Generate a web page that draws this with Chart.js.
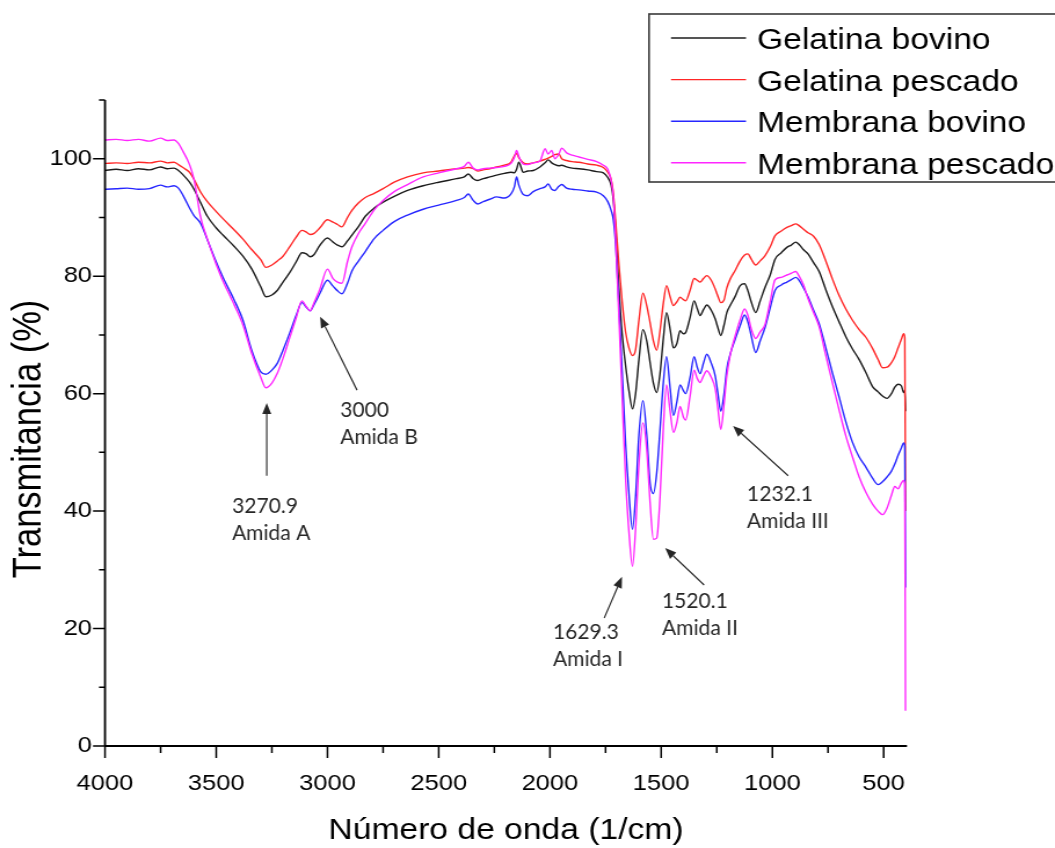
<!DOCTYPE html>
<html>
<head>
<meta charset="utf-8">
<script src="https://cdn.jsdelivr.net/npm/chart.js@4.4.1/dist/chart.umd.min.js"></script>
<style>
  html, body { margin: 0; padding: 0; background: #fff; overflow: hidden; }
  #stage { width: 910px; height: 848px; transform-origin: 0 0; }
  canvas { display: block; }
</style>
</head>
<body>
<div id="stage"><canvas id="c" width="910" height="848"></canvas></div>
<script>
// FTIR spectra: wavenumber (1/cm) against transmittance (%)
const wavenumber = [
  4000, 3950, 3900, 3850, 3800, 3750, 3720, 3690, 3670, 3650,
  3620, 3600, 3570, 3540, 3500, 3470, 3420, 3380, 3340, 3300,
  3277, 3250, 3225, 3200, 3170, 3140, 3115, 3095, 3078, 3060,
  3035, 3000, 2975, 2955, 2935, 2910, 2890, 2860, 2830, 2790,
  2750, 2700, 2640, 2570, 2500, 2420, 2385, 2367, 2345, 2325,
  2300, 2270, 2240, 2205, 2175, 2160, 2150, 2140, 2120, 2100,
  2075, 2045, 2022, 2008, 1992, 1978, 1960, 1947, 1925, 1900,
  1870, 1830, 1790, 1760, 1740, 1725, 1715, 1705, 1690, 1675,
  1660, 1645, 1629, 1615, 1600, 1582, 1565, 1550, 1535, 1520,
  1505, 1490, 1476, 1460, 1445, 1430, 1415, 1400, 1390, 1370,
  1352, 1338, 1325, 1310, 1295, 1275, 1257, 1245, 1232, 1218,
  1205, 1190, 1167, 1145, 1125, 1110, 1095, 1075, 1055, 1033,
  1010, 988, 960, 935, 915, 895, 880, 860, 840, 815,
  790, 760, 730, 700, 670, 640, 610, 580, 550, 525,
  505, 485, 465, 450, 435, 420, 410, 405, 402
];

const gelatinaBovino = [
  98.0, 98.2, 98.0, 98.3, 98.1, 98.6, 98.3, 98.4, 98.0, 97.3,
  96.0, 94.8, 92.5, 90.2, 88.2, 87.0, 85.1, 83.4, 81.2, 78.2,
  76.5, 76.8, 77.6, 79.0, 80.6, 82.5, 84.0, 83.8, 83.3, 83.7,
  85.2, 86.5, 85.8, 85.3, 85.0, 86.0, 87.0, 88.5, 90.2, 91.6,
  92.6, 93.6, 94.6, 95.4, 96.0, 96.6, 96.9, 97.4, 96.6, 96.3,
  96.6, 96.9, 97.2, 97.5, 97.7, 97.6, 98.2, 99.4, 97.7, 97.9,
  98.0, 98.6, 99.3, 99.8, 99.3, 99.0, 98.8, 98.9, 98.6, 98.4,
  98.3, 98.1, 97.8, 97.6, 96.8, 95.5, 93.0, 88.0, 78.0, 70.0,
  64.8, 60.5, 57.4, 60.0, 65.8, 70.9, 69.0, 65.3, 61.8, 60.2,
  63.5, 69.5, 73.8, 71.0, 67.8, 68.5, 70.7, 70.2, 70.4, 73.0,
  75.8, 74.5, 73.3, 74.3, 75.1, 74.2, 72.7, 71.2, 69.9, 71.6,
  73.8, 75.0, 76.6, 78.4, 78.7, 77.5, 75.6, 73.8, 75.8, 78.1,
  80.2, 82.9, 84.0, 84.9, 85.3, 85.8, 85.4, 84.5, 83.8, 82.3,
  80.8, 77.7, 74.8, 72.2, 69.7, 67.6, 65.8, 63.6, 61.2, 60.3,
  59.6, 59.2, 60.0, 61.1, 61.6, 61.3, 60.2, 60.5, 57.0
];

const gelatinaPescado = [
  99.2, 99.3, 99.2, 99.4, 99.3, 99.6, 99.3, 99.4, 99.0, 98.5,
  97.7, 96.5, 94.3, 92.7, 91.0, 89.8, 87.9, 86.3, 84.5, 82.8,
  81.5, 81.9, 82.6, 83.4, 85.0, 86.7, 87.8, 87.5, 87.1, 87.3,
  88.2, 89.6, 89.2, 88.8, 88.4, 90.0, 91.2, 92.5, 93.4, 94.1,
  94.9, 96.0, 96.9, 97.6, 97.9, 98.3, 98.4, 98.5, 98.3, 97.9,
  98.1, 98.3, 98.6, 98.9, 99.4, 100.5, 100.9, 100.2, 99.3, 99.1,
  99.3, 99.6, 99.9, 100.1, 100.4, 100.7, 100.8, 100.0, 99.7, 99.5,
  99.4, 99.1, 98.9, 98.5, 97.7, 96.5, 94.0, 89.5, 82.0, 75.5,
  70.5, 67.8, 66.5, 67.5, 72.5, 77.1, 75.0, 72.1, 69.0, 67.4,
  70.8, 75.5, 78.4, 76.5, 75.0, 75.6, 76.4, 76.0, 75.8, 77.6,
  79.6, 79.3, 79.0, 79.6, 80.1, 79.3, 77.8, 76.6, 75.5, 75.9,
  78.0, 79.5, 81.0, 82.6, 83.6, 83.8, 82.9, 81.9, 82.6, 83.5,
  85.0, 86.9, 87.7, 88.3, 88.6, 88.9, 88.6, 88.0, 87.4, 86.8,
  85.4, 82.6, 79.5, 76.7, 74.4, 72.5, 70.9, 69.6, 67.7, 65.8,
  64.4, 64.5, 65.3, 66.3, 67.8, 69.3, 70.2, 69.5, 40.0
];

const membranaBovino = [
  94.8, 94.9, 95.0, 94.8, 94.9, 95.5, 95.2, 95.4, 95.0, 93.8,
  91.6, 90.3, 89.0, 86.2, 82.4, 79.8, 76.0, 72.5, 67.3, 63.7,
  63.3, 64.0, 65.2, 67.4, 70.3, 73.4, 75.5, 74.7, 74.1, 75.2,
  77.0, 79.3, 78.3, 77.5, 77.0, 78.8, 80.9, 82.6, 84.2, 86.4,
  87.8, 89.3, 90.4, 91.4, 92.1, 92.9, 93.4, 94.0, 92.9, 92.3,
  92.7, 93.1, 93.5, 93.3, 94.0, 95.2, 96.9, 95.5, 93.9, 93.7,
  94.4, 94.9, 95.2, 95.7, 94.8, 94.6, 95.3, 95.6, 95.0, 94.8,
  94.7, 94.5, 94.3, 93.7, 92.7, 91.2, 89.6, 85.5, 75.0, 63.5,
  51.5, 43.0, 36.9, 42.5, 53.0, 58.8, 53.0, 44.8, 43.0, 46.5,
  54.0, 62.0, 66.3, 61.0, 56.3, 58.5, 61.5, 60.5, 60.0, 62.8,
  66.3, 64.5, 63.4, 65.2, 66.7, 65.2, 63.0, 60.0, 57.0, 59.8,
  64.2, 66.7, 69.3, 71.6, 73.4, 72.2, 69.8, 67.0, 69.0, 71.3,
  74.6, 77.6, 78.5, 79.0, 79.4, 79.8, 79.3, 78.0, 76.5, 74.2,
  71.9, 67.8, 63.5, 59.4, 55.2, 51.7, 49.2, 47.5, 45.6, 44.5,
  45.0, 45.8, 46.8, 48.0, 49.5, 50.8, 51.6, 51.0, 27.0
];

const membranaPescado = [
  103.2, 103.3, 103.1, 103.3, 103.0, 103.5, 103.1, 103.2, 102.6, 101.3,
  99.0, 96.5, 90.0, 86.3, 82.0, 79.2, 75.2, 71.7, 66.8, 62.8,
  61.0, 61.8, 63.5, 66.0, 69.5, 73.0, 75.8, 74.8, 74.1, 75.5,
  77.7, 81.2, 79.6, 79.0, 78.8, 82.5, 85.0, 87.3, 89.0, 91.3,
  92.9, 94.4, 95.6, 96.9, 97.6, 98.3, 98.7, 99.4, 98.4, 98.1,
  98.3, 98.4, 98.5, 98.7, 99.2, 100.2, 101.4, 100.4, 99.1, 99.0,
  99.3, 99.6, 101.7, 100.8, 101.4, 100.0, 100.8, 101.8, 101.0, 100.6,
  100.3, 99.9, 99.5, 98.9, 98.2, 96.3, 93.5, 86.5, 73.0, 59.0,
  45.5, 36.5, 30.6, 37.0, 48.0, 55.0, 50.5, 41.5, 35.2, 35.4,
  42.5, 54.5, 61.5, 57.0, 53.4, 55.0, 57.8, 56.0, 55.5, 59.6,
  64.0, 62.6, 61.9, 63.0, 63.9, 62.8, 60.8, 57.5, 53.9, 58.0,
  63.0, 66.5, 69.9, 72.6, 74.4, 73.3, 71.0, 69.4, 70.5, 71.8,
  75.7, 79.4, 79.8, 80.2, 80.5, 80.8, 80.0, 78.5, 76.2, 73.8,
  71.4, 66.5, 61.8, 57.2, 52.8, 49.2, 45.8, 43.2, 41.2, 40.0,
  39.4, 40.5, 42.7, 44.2, 43.8, 44.8, 45.2, 44.5, 6.0
];

const seriesNames = ['Gelatina bovino', 'Gelatina pescado', 'Membrana bovino', 'Membrana pescado'];
const seriesColors = ['#1c1c1c', '#ff2626', '#2626ff', '#ff26ff'];
const xTicks = [4000, 3500, 3000, 2500, 2000, 1500, 1000, 500];
const yTicks = [0, 20, 40, 60, 80, 100];

// Band assignments: label lines, text anchor (left edge, first line centre) and arrow in data units
const bandPositions = ['3270.9', '3000', '1629.3', '1520.1', '1232.1'];
const bandNames = ['Amida A', 'Amida B', 'Amida I', 'Amida II', 'Amida III'];
const bandTextAt = [[3429, 40.9], [2943, 57.2], [1986, 19.4], [1496, 24.7], [1114, 42.8]];
const bandArrowFrom = [[3273, 46.0], [2867, 60.6], [1756, 21.8], [1307, 27.4], [929, 46.0]];
const bandArrowTo = [[3273, 58.4], [3033, 73.1], [1676, 28.8], [1482, 33.7], [1177, 54.5]];

// The figure is drawn on a narrower canvas and widened to 1055 px
const W = 910, H = 848, S = 1055 / W;
const sx = v => v / S;
document.getElementById('stage').style.transform = `scaleX(${S})`;

const SANS = "'Liberation Sans', Arial, sans-serif";
Chart.defaults.font.family = SANS;

const frame = {
  id: 'frame',
  afterDraw(chart) {
    const { ctx, chartArea: a, scales: { x, y } } = chart;
    ctx.save();

    // axis lines and tick marks (outside)
    ctx.strokeStyle = '#000';
    ctx.lineWidth = 1.8;
    ctx.beginPath();
    ctx.moveTo(a.left, a.top);
    ctx.lineTo(a.left, a.bottom);
    ctx.moveTo(a.left, a.bottom);
    ctx.lineTo(a.right, a.bottom);
    ctx.stroke();

    ctx.lineWidth = 1.5;
    ctx.beginPath();
    for (let v = 500; v <= 4000; v += 250) {
      const px = x.getPixelForValue(v);
      const len = v % 500 === 0 ? 12 : 7;
      ctx.moveTo(px, a.bottom);
      ctx.lineTo(px, a.bottom + len);
    }
    for (let v = 0; v <= 110; v += 10) {
      const py = y.getPixelForValue(v);
      const len = v % 20 === 0 ? 12 : 6;
      ctx.moveTo(a.left, py);
      ctx.lineTo(a.left - sx(len), py);
    }
    ctx.stroke();

    // y axis title
    ctx.save();
    ctx.translate(sx(30), 439);
    ctx.rotate(-Math.PI / 2);
    ctx.fillStyle = '#000';
    ctx.font = `34.5px ${SANS}`;
    ctx.textAlign = 'center';
    ctx.textBaseline = 'middle';
    ctx.fillText('Transmitancia (%)', 0, 0);
    ctx.restore();

    // legend
    ctx.strokeStyle = '#3a3a3a';
    ctx.lineWidth = 1.6;
    ctx.strokeRect(sx(649), 14, W, 168);
    ctx.font = `29px ${SANS}`;
    ctx.textAlign = 'left';
    ctx.textBaseline = 'alphabetic';
    seriesNames.forEach((name, i) => {
      const ry = 38 + i * 41.6;
      ctx.strokeStyle = seriesColors[i];
      ctx.lineWidth = 1.4;
      ctx.beginPath();
      ctx.moveTo(sx(671), ry);
      ctx.lineTo(sx(746), ry);
      ctx.stroke();
      ctx.fillStyle = '#000';
      ctx.fillText(name, sx(757), ry + 11);
    });

    // band labels and arrows, drawn at natural width
    ctx.save();
    ctx.scale(1 / S, 1);
    ctx.fillStyle = '#262626';
    ctx.strokeStyle = '#262626';
    ctx.font = "21px Lato, 'Open Sans', sans-serif";
    ctx.textBaseline = 'middle';
    bandPositions.forEach((txt, i) => {
      const tx = x.getPixelForValue(bandTextAt[i][0]) * S;
      const ty = y.getPixelForValue(bandTextAt[i][1]);
      ctx.fillText(txt, tx, ty);
      ctx.fillText(bandNames[i], tx, ty + 27);

      const x0 = x.getPixelForValue(bandArrowFrom[i][0]) * S;
      const y0 = y.getPixelForValue(bandArrowFrom[i][1]);
      const x1 = x.getPixelForValue(bandArrowTo[i][0]) * S;
      const y1 = y.getPixelForValue(bandArrowTo[i][1]);
      const ang = Math.atan2(y1 - y0, x1 - x0);
      const hl = 11, hw = 4.5;
      const bx = x1 - hl * Math.cos(ang), by = y1 - hl * Math.sin(ang);
      ctx.lineWidth = 1.3;
      ctx.beginPath();
      ctx.moveTo(x0, y0);
      ctx.lineTo(bx, by);
      ctx.stroke();
      ctx.beginPath();
      ctx.moveTo(x1, y1);
      ctx.lineTo(bx - hw * Math.sin(ang), by + hw * Math.cos(ang));
      ctx.lineTo(bx + hw * Math.sin(ang), by - hw * Math.cos(ang));
      ctx.closePath();
      ctx.fill();
    });
    ctx.restore();

    ctx.restore();
  }
};

const seriesValues = [gelatinaBovino, gelatinaPescado, membranaBovino, membranaPescado];

new Chart(document.getElementById('c'), {
  type: 'line',
  data: {
    datasets: seriesNames.map((name, i) => ({
      label: name,
      data: wavenumber.map((w, k) => ({ x: w, y: seriesValues[i][k] })),
      borderColor: seriesColors[i],
      borderWidth: 1.4,
      pointRadius: 0,
      fill: false,
      cubicInterpolationMode: 'monotone',
      order: 3 - i
    }))
  },
  options: {
    responsive: false,
    animation: false,
    devicePixelRatio: 1,
    layout: { padding: { top: 100, right: W - sx(907), bottom: 0, left: 0 } },
    plugins: { legend: { display: false }, tooltip: { enabled: false } },
    scales: {
      x: {
        type: 'linear',
        reverse: true,
        min: 395,
        max: 4000,
        afterBuildTicks: s => { s.ticks = xTicks.map(v => ({ value: v })); },
        afterFit: s => { s.height = H - 746; },
        grid: { display: false, drawTicks: false },
        border: { display: false },
        ticks: {
          padding: 25, color: '#000', font: { size: 22 },
          maxRotation: 0, autoSkip: false, callback: v => String(v)
        },
        title: {
          display: true, text: 'Número de onda (1/cm)', color: '#000',
          font: { size: 29 }, padding: { top: 0, bottom: 0 }
        }
      },
      y: {
        min: 0,
        max: 110,
        afterBuildTicks: s => { s.ticks = yTicks.map(v => ({ value: v })); },
        afterFit: s => { s.width = sx(105); },
        grid: { display: false, drawTicks: false },
        border: { display: false },
        ticks: { padding: sx(13), color: '#000', font: { size: 22 }, callback: v => String(v) }
      }
    }
  },
  plugins: [frame]
});
</script>
</body>
</html>
